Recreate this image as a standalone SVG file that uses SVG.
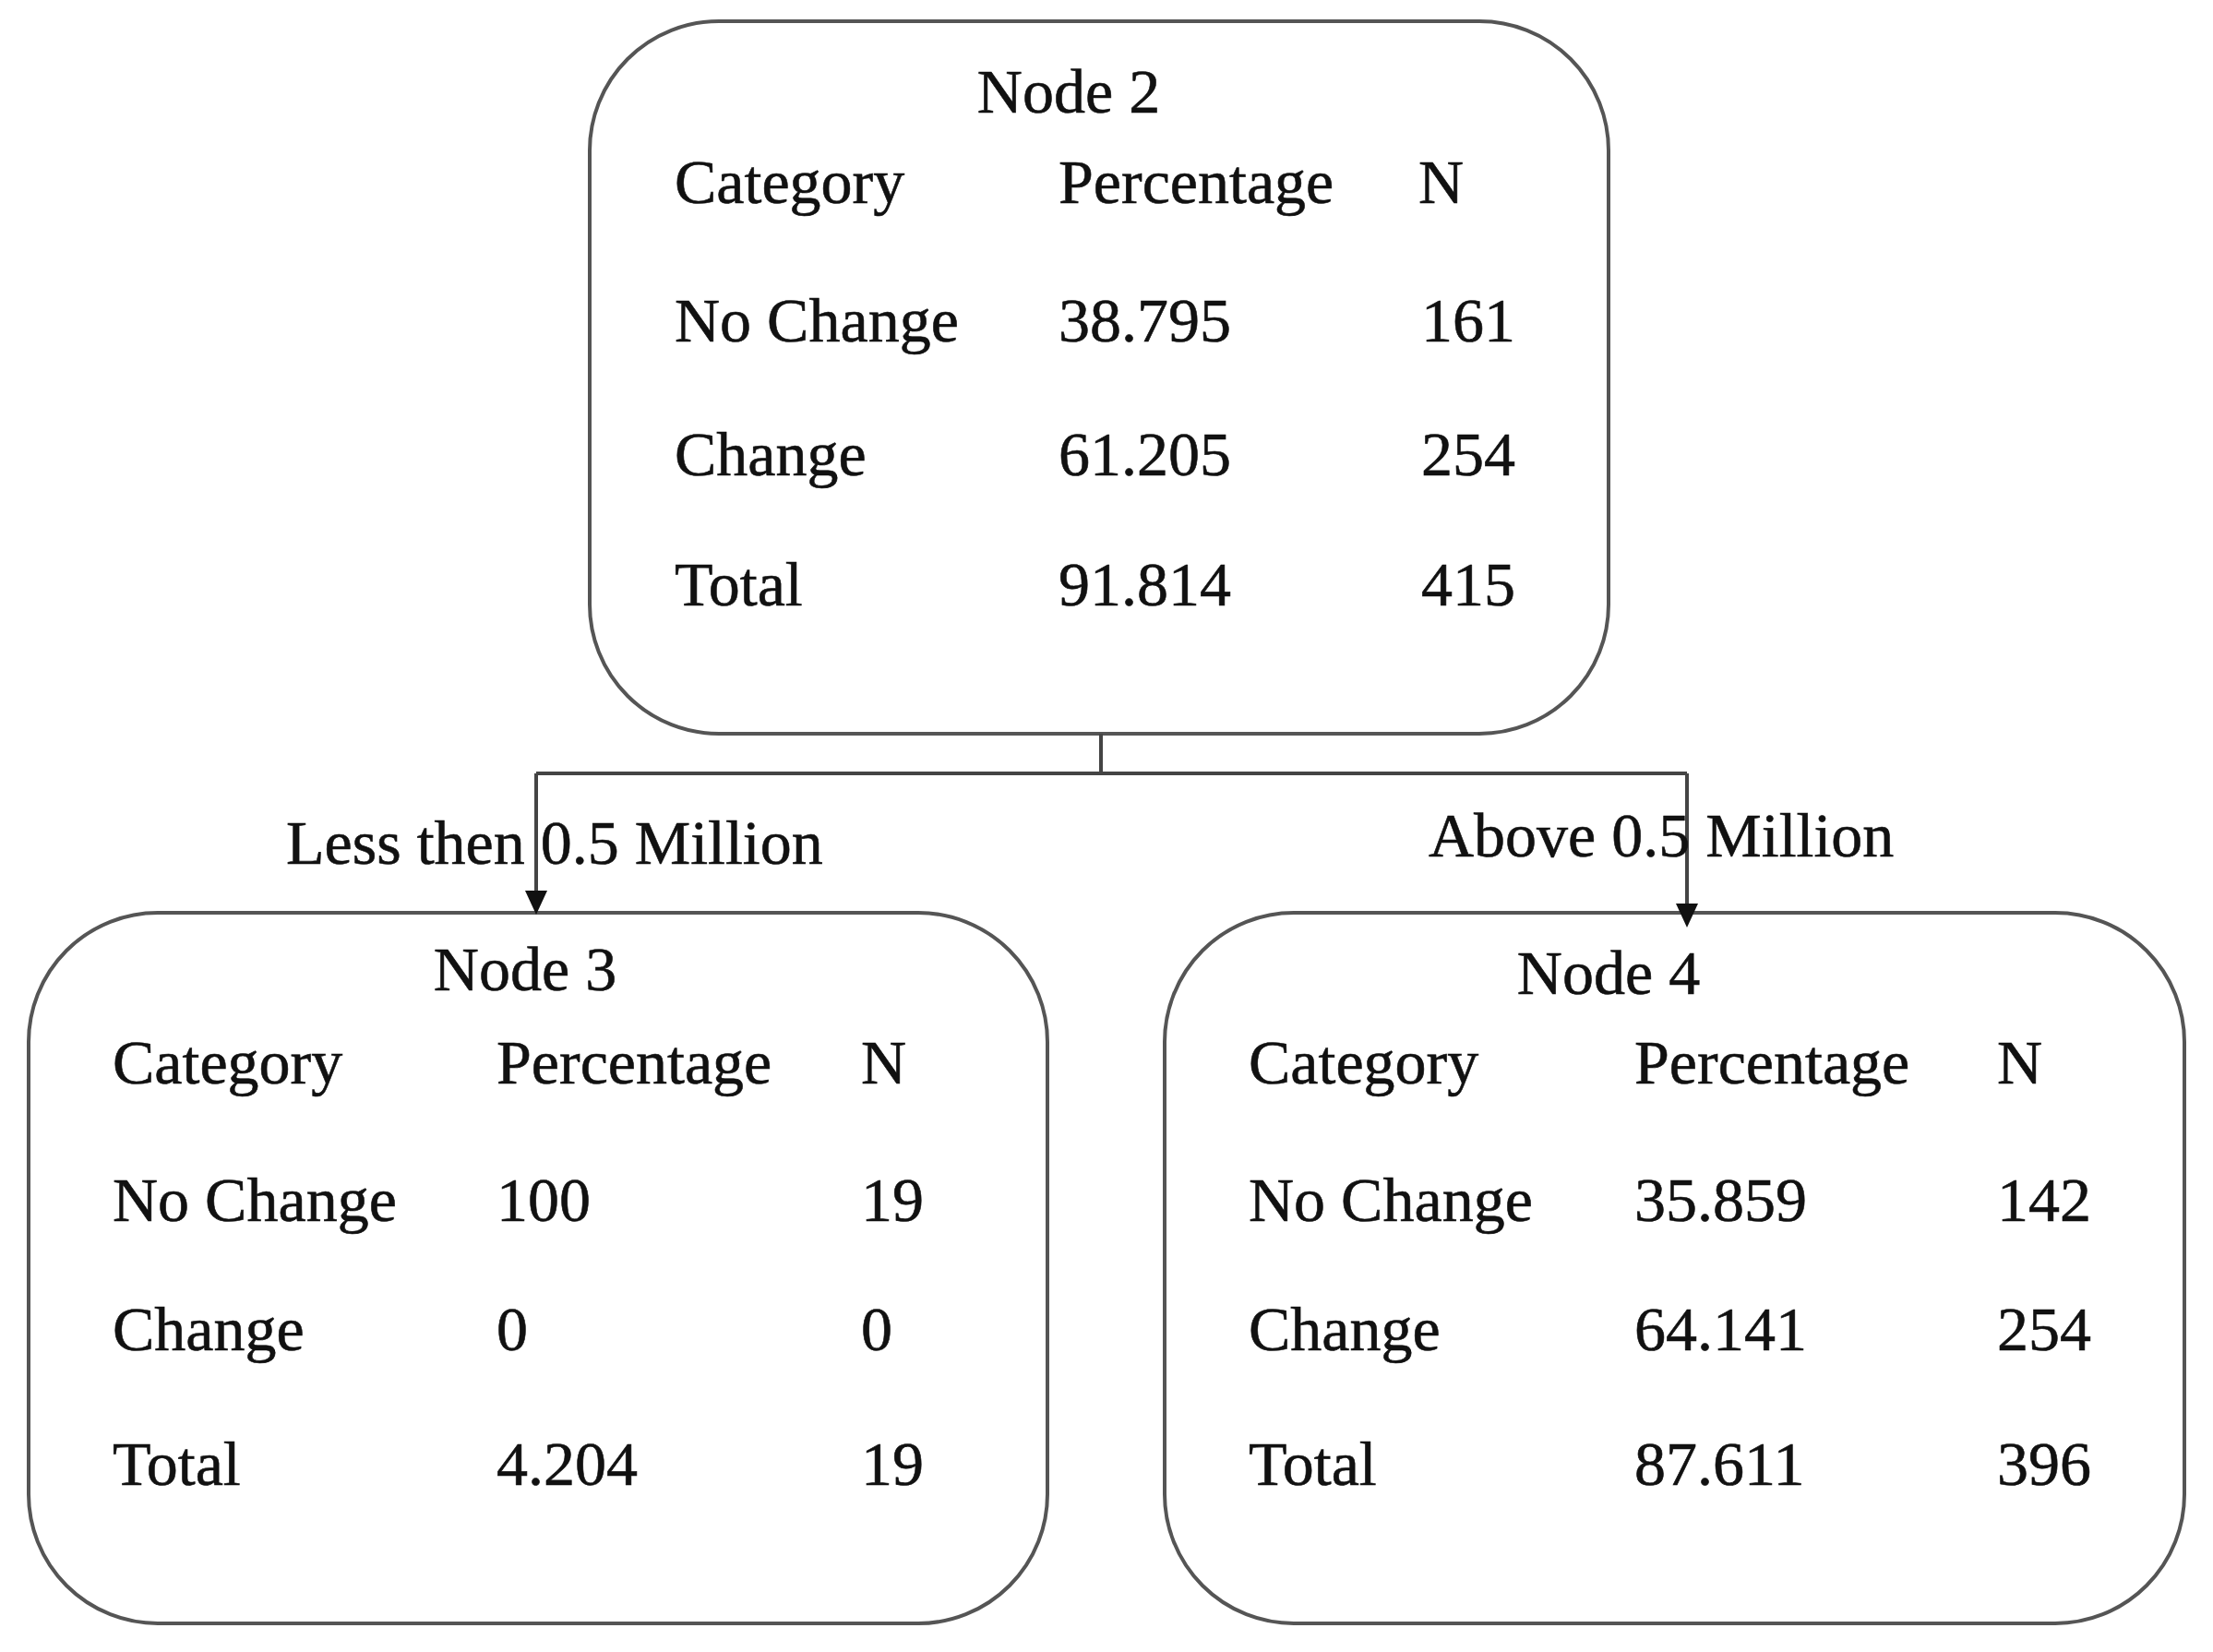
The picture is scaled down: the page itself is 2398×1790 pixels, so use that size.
<svg xmlns="http://www.w3.org/2000/svg" width="2398" height="1790" viewBox="0 0 2398 1790">
<defs>
<style>
.box{fill:#fff;stroke:#555;stroke-width:4}
text{font-family:"Liberation Serif","Times New Roman",serif;font-size:68px;fill:#111;stroke:#111;stroke-width:0.6}
.t{text-anchor:middle}
.c{fill:none;stroke:#444;stroke-width:4}
.ah{fill:#111}
</style>
</defs>
<rect width="2398" height="1790" fill="#fff"/>
<g id="node2">
<rect class="box" x="639" y="23" width="1104" height="772" rx="140" ry="140"/>
<text class="t" x="1158" y="122">Node 2</text>
<text x="731" y="220">Category</text><text x="1147" y="220">Percentage</text><text x="1537" y="220">N</text>
<text x="731" y="370">No Change</text><text x="1147" y="370">38.795</text><text x="1540" y="370">161</text>
<text x="731" y="515">Change</text><text x="1147" y="515">61.205</text><text x="1540" y="515">254</text>
<text x="731" y="656">Total</text><text x="1147" y="656">91.814</text><text x="1540" y="656">415</text>
</g>
<g id="node3">
<rect class="box" x="31" y="989" width="1104" height="770" rx="140" ry="140"/>
<text class="t" x="569" y="1073">Node 3</text>
<text x="122" y="1174">Category</text><text x="538" y="1174">Percentage</text><text x="933" y="1174">N</text>
<text x="122" y="1323">No Change</text><text x="538" y="1323">100</text><text x="933" y="1323">19</text>
<text x="122" y="1463">Change</text><text x="538" y="1463">0</text><text x="933" y="1463">0</text>
<text x="122" y="1609">Total</text><text x="538" y="1609">4.204</text><text x="933" y="1609">19</text>
</g>
<g id="node4">
<rect class="box" x="1262" y="989" width="1105" height="770" rx="140" ry="140"/>
<text class="t" x="1743" y="1077">Node 4</text>
<text x="1353" y="1174">Category</text><text x="1771" y="1174">Percentage</text><text x="2164" y="1174">N</text>
<text x="1353" y="1323">No Change</text><text x="1771" y="1323">35.859</text><text x="2164" y="1323">142</text>
<text x="1353" y="1463">Change</text><text x="1771" y="1463">64.141</text><text x="2164" y="1463">254</text>
<text x="1353" y="1609">Total</text><text x="1771" y="1609">87.611</text><text x="2164" y="1609">396</text>
</g>
<g id="connectors">
<path class="c" d="M1193,795 V838"/>
<path class="c" d="M581,838 H1828"/>
<path class="c" d="M581,838 V970"/>
<path class="c" d="M1828,838 V985"/>
<polygon class="ah" points="569,965 593,965 581,991"/>
<polygon class="ah" points="1816,979 1840,979 1828,1005"/>
<text x="310" y="936">Less then 0.5 Million</text>
<text x="1548" y="928">Above 0.5 Million</text>
</g>
</svg>
